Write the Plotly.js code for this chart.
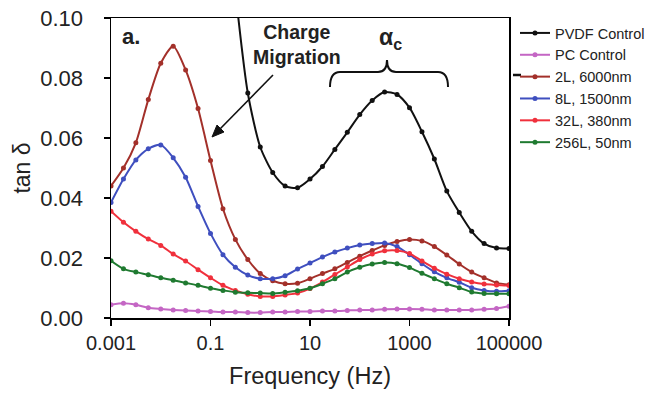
<!DOCTYPE html>
<html>
<head>
<meta charset="utf-8">
<script src="https://cdn.plot.ly/plotly-3.0.1.min.js"></script>
<style>
  html, body { margin: 0; padding: 0; background: #fff; }
  #chart { width: 650px; height: 395px; }
</style>
</head>
<body>
<div id="chart"></div>
<script>
// Frequencies (Hz), quarter-decade steps
const freq = [0.001, 0.00178, 0.00316, 0.00562, 0.01, 0.0178, 0.0316, 0.0562,
  0.1, 0.178, 0.316, 0.562, 1, 1.78, 3.16, 5.62, 10, 17.8, 31.6, 56.2,
  100, 178, 316, 562, 1000, 1780, 3160, 5620, 10000, 17800, 31600, 56200, 100000];

const seriesNames = ["PVDF Control", "PC Control", "2L, 6000nm", "8L, 1500nm", "32L, 380nm", "256L, 50nm"];

const pvdf = [null, null, null, null, null, null, null, null, null, null,
  0.109, 0.075, 0.057, 0.0485, 0.0440, 0.0434, 0.0463, 0.0505, 0.0562, 0.0619,
  0.0678, 0.0725, 0.0753, 0.0745, 0.0701, 0.0621, 0.0530, 0.0423, 0.0352, 0.0289,
  0.0248, 0.0233, 0.0232];

const pc = [0.0044, 0.0049, 0.0044, 0.0034, 0.0030, 0.0027, 0.0025, 0.0023, 0.0022, 0.0020,
  0.0020, 0.0018, 0.0018, 0.0020, 0.0020, 0.0022, 0.0022, 0.0023, 0.0023, 0.0025,
  0.0027, 0.0027, 0.0029, 0.0030, 0.0030, 0.0029, 0.0027, 0.0027, 0.0027, 0.0027,
  0.0029, 0.0032, 0.0039];

const l2 = [0.0440, 0.0500, 0.0584, 0.0728, 0.0849, 0.0906, 0.0827, 0.0698, 0.0525, 0.0364,
  0.0262, 0.0195, 0.0148, 0.0124, 0.0114, 0.0116, 0.0131, 0.0148, 0.0164, 0.0185,
  0.0206, 0.0225, 0.0242, 0.0255, 0.0262, 0.0257, 0.0238, 0.0210, 0.0180, 0.0153,
  0.0134, 0.0117, 0.0111];

const l8 = [0.0385, 0.0463, 0.0527, 0.0564, 0.0577, 0.0534, 0.0469, 0.0372, 0.0282, 0.0211,
  0.0169, 0.0143, 0.0131, 0.0131, 0.0141, 0.0163, 0.0183, 0.0203, 0.0220, 0.0233,
  0.0243, 0.0248, 0.0250, 0.0238, 0.0211, 0.0181, 0.0154, 0.0134, 0.0119, 0.0101,
  0.0092, 0.0089, 0.0091];

const l32 = [0.0356, 0.0319, 0.0289, 0.0263, 0.0242, 0.0213, 0.0190, 0.0161, 0.0134, 0.0109,
  0.0092, 0.0079, 0.0072, 0.0072, 0.0077, 0.0083, 0.0098, 0.0120, 0.0145, 0.0170,
  0.0195, 0.0213, 0.0224, 0.0225, 0.0215, 0.0190, 0.0166, 0.0146, 0.0131, 0.0120,
  0.0113, 0.0110, 0.0108];

const l256 = [0.0191, 0.0164, 0.0153, 0.0144, 0.0134, 0.0126, 0.0117, 0.0109, 0.0099, 0.0092,
  0.0086, 0.0084, 0.0083, 0.0082, 0.0086, 0.0091, 0.0099, 0.0114, 0.0131, 0.0153,
  0.0169, 0.0180, 0.0185, 0.0181, 0.0168, 0.0149, 0.0131, 0.0114, 0.0101, 0.0087,
  0.0082, 0.0081, 0.0081];

const xTickVals = [0.001, 0.1, 10, 1000, 100000];
const xTickText = ["0.001", "0.1", "10", "1000", "100000"];

const colors = ["#111111", "#c466c4", "#a3302a", "#3f4fbf", "#f0303c", "#1f7a30"];
const allY = [pvdf, pc, l2, l8, l32, l256];

const FONT = "Liberation Sans, Arial, sans-serif";

const traces = allY.map((ys, i) => ({
  type: "scatter",
  mode: "lines+markers",
  name: seriesNames[i],
  x: freq,
  y: ys,
  line: { color: colors[i], width: 2, shape: "spline", smoothing: 0.7 },
  marker: { color: colors[i], size: 5, symbol: "circle" },
  connectgaps: false
}));

// plot-area pixel helpers for decorations (paper coords)
const L = 111, R = 509, T = 18, B = 318;
const px = v => (v - L) / (R - L);
const py = v => (B - v) / (B - T);
const pt = (x, y) => px(x) + "," + py(y);

const bracePath = "M " + pt(330, 87) +
  " Q " + pt(330, 72) + " " + pt(340, 72) +
  " L " + pt(378, 72) +
  " Q " + pt(387, 72) + " " + pt(387, 60) +
  " Q " + pt(387, 72) + " " + pt(396, 72) +
  " L " + pt(438, 72) +
  " Q " + pt(448, 72) + " " + pt(448, 87);

const arrowHead = "M " + pt(212, 137) + " L " + pt(224, 132) + " L " + pt(217, 125) + " Z";

const layout = {
  width: 650,
  height: 395,
  margin: { l: L, r: 650 - R, t: T, b: 395 - B },
  paper_bgcolor: "#ffffff",
  plot_bgcolor: "#ffffff",
  font: { family: FONT, color: "#222222", size: 14 },
  showlegend: true,
  legend: {
    xref: "container", yref: "container",
    x: 515 / 650, y: 1 - 17 / 395, xanchor: "left", yanchor: "top",
    font: { family: FONT, size: 14.5, color: "#222222" },
    bgcolor: "rgba(0,0,0,0)",
    itemwidth: 30
  },
  xaxis: {
    type: "log",
    range: [-3, 5],
    tickvals: xTickVals,
    ticktext: xTickText,
    ticks: "outside",
    ticklen: 6,
    tickwidth: 1.5,
    tickcolor: "#000",
    showline: true,
    linecolor: "#000",
    linewidth: 1.5,
    mirror: true,
    showgrid: false,
    zeroline: false,
    tickfont: { family: FONT, size: 20, color: "#222222" },
    title: { text: "Frequency (Hz)", font: { family: FONT, size: 23.5, color: "#222222" }, standoff: 15 }
  },
  yaxis: {
    range: [0, 0.1],
    dtick: 0.02,
    tick0: 0,
    tickformat: ".2f",
    ticks: "outside",
    ticklen: 6,
    tickwidth: 1.5,
    tickcolor: "#000",
    showline: true,
    linecolor: "#000",
    linewidth: 1.5,
    mirror: true,
    showgrid: false,
    zeroline: false,
    ticklabelstandoff: 16,
    tickfont: { family: FONT, size: 22, color: "#222222" },
    title: { text: "tan δ", font: { family: FONT, size: 23, color: "#222222" }, standoff: 3 }
  },
  shapes: [
    { type: "path", xref: "paper", yref: "paper", path: bracePath,
      line: { color: "#111", width: 2 } },
    { type: "line", xref: "paper", yref: "paper",
      x0: px(273), y0: py(75), x1: px(219), y1: py(130),
      line: { color: "#111", width: 1.6 } },
    { type: "path", xref: "paper", yref: "paper", path: arrowHead,
      fillcolor: "#111", line: { color: "#111", width: 1 } },
    { type: "line", xref: "paper", yref: "paper",
      x0: px(513), x1: px(521), y0: py(75), y1: py(75),
      line: { color: "#111", width: 2.5 } }
  ],
  annotations: [
    { xref: "paper", yref: "paper", x: px(120), y: py(36), xanchor: "left", yanchor: "middle",
      text: "<b>a.</b>", showarrow: false, font: { family: FONT, size: 22, color: "#222" } },
    { xref: "paper", yref: "paper", x: px(297), y: py(45), xanchor: "center", yanchor: "middle",
      text: "<b>Charge<br>Migration</b>", showarrow: false,
      font: { family: FONT, size: 19.5, color: "#222" } },
    { xref: "paper", yref: "paper", x: px(390), y: py(39), xanchor: "center", yanchor: "middle",
      text: "<b>α<sub>c</sub></b>", showarrow: false,
      font: { family: FONT, size: 23, color: "#222" } }
  ]
};

Plotly.newPlot("chart", traces, layout, { staticPlot: true, displayModeBar: false });
</script>
</body>
</html>
